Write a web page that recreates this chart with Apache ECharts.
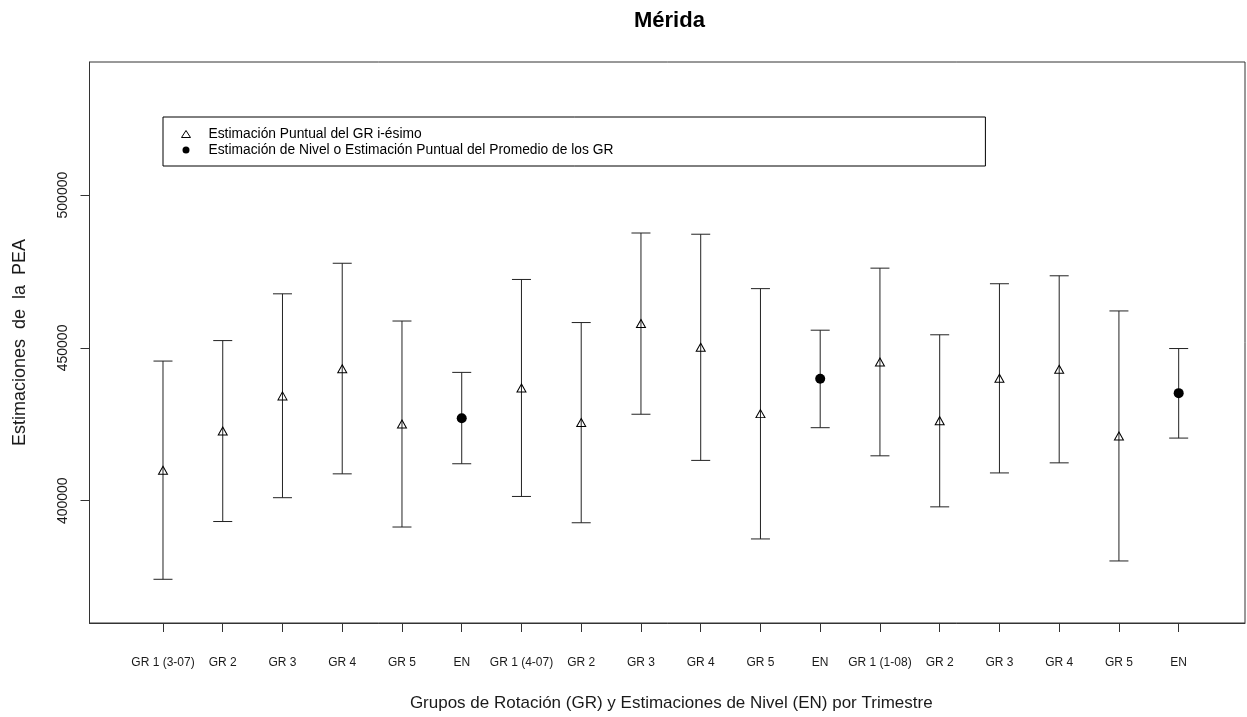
<!DOCTYPE html>
<html>
<head>
<meta charset="utf-8">
<title>Mérida</title>
<script src="https://cdn.jsdelivr.net/npm/echarts@6/dist/echarts.min.js"></script>
<style>
  html, body { margin: 0; padding: 0; background: #fff; }
  #chart { width: 1247px; height: 717px; }
</style>
</head>
<body>
<div id="chart"></div>
<script>
// Rotation groups (GR) and level estimates (EN) for three quarters
const categories = ['GR 1 (3-07)', 'GR 2', 'GR 3', 'GR 4', 'GR 5', 'EN',
                    'GR 1 (4-07)', 'GR 2', 'GR 3', 'GR 4', 'GR 5', 'EN',
                    'GR 1 (1-08)', 'GR 2', 'GR 3', 'GR 4', 'GR 5', 'EN'];
// Point estimates of the PEA
const estimates = [410000, 422800, 434300, 443200, 425100, 427000,
                   436900, 425600, 458000, 450200, 428500, 439900,
                   445400, 426200, 440100, 443000, 421200, 435200];
// Confidence interval bounds
const lowerBounds = [374300, 393200, 401000, 408800, 391400, 412100,
                     401400, 392800, 428300, 413200, 387500, 423900,
                     414700, 398000, 409100, 412400, 380300, 420500];
const upperBounds = [445700, 452400, 467700, 477700, 458800, 442000,
                     472400, 458300, 487600, 487200, 469400, 455800,
                     476100, 454300, 471000, 473600, 462100, 449800];
const yTicks = [400000, 450000, 500000];

const nameGR = 'Estimación Puntual del GR i-ésimo';
const nameEN = 'Estimación de Nivel o Estimación Puntual del Promedio de los GR';

const positions = categories.map((_, i) => i + 1);
const barData = positions.map((x, i) => [x, lowerBounds[i], upperBounds[i]]);
const grPoints = [], enPoints = [];
positions.forEach((x, i) => {
  (categories[i] === 'EN' ? enPoints : grPoints).push([x, estimates[i]]);
});

const FONT = 'Liberation Sans, Arial, sans-serif';
const INK = '#1a1a1a';
const FRAME = '#333';

const chart = echarts.init(document.getElementById('chart'), null, { renderer: 'canvas' });

chart.setOption({
  animation: false,
  backgroundColor: '#fff',
  title: {
    text: 'Mérida',
    left: 634, top: 10, padding: 0,
    textStyle: { fontFamily: FONT, fontSize: 22, fontWeight: 'bold', color: '#000' }
  },
  legend: {
    orient: 'vertical',
    left: 163, top: 117,
    padding: [9, 372, 8, 18],
    itemWidth: 9, itemHeight: 7, itemGap: 0,
    borderColor: '#000', borderWidth: 1,
    selectedMode: false,
    textStyle: { fontFamily: FONT, fontSize: 13.8, color: '#000', lineHeight: 16, padding: [0, 0, 0, 13] },
    data: [
      { name: nameGR, icon: 'triangle', itemStyle: { color: '#fff', borderColor: '#000', borderWidth: 1 } },
      { name: nameEN, icon: 'circle', itemStyle: { color: '#000', borderWidth: 0 } }
    ]
  },
  grid: {
    left: 89.5, right: 2, top: 62, bottom: 91.5,
    show: true, borderColor: FRAME, borderWidth: 1,
    containLabel: false
  },
  xAxis: {
    type: 'value',
    min: -0.23, max: 19.11,
    name: 'Grupos de Rotación (GR) y Estimaciones de Nivel (EN) por Trimestre',
    nameLocation: 'middle',
    nameGap: 72,
    nameTextStyle: { fontFamily: FONT, fontSize: 17, color: INK, padding: [0, 0, 0, 8] },
    axisLine: { show: true, onZero: false, lineStyle: { color: FRAME, width: 1 } },
    splitLine: { show: false },
    axisTick: { show: true, inside: false, length: 9, customValues: positions, lineStyle: { color: FRAME } },
    axisLabel: {
      customValues: positions,
      margin: 34,
      fontFamily: FONT,
      fontSize: 12, color: INK,
      formatter: v => categories[Math.round(v) - 1] || ''
    }
  },
  yAxis: {
    type: 'value',
    min: 360000, max: 543550,
    name: 'Estimaciones  de  la  PEA',
    nameLocation: 'middle',
    nameRotate: 90,
    nameGap: 60,
    nameTextStyle: { fontFamily: FONT, fontSize: 18, color: INK },
    axisLine: { show: true, onZero: false, lineStyle: { color: FRAME, width: 1 } },
    splitLine: { show: false },
    axisTick: { show: true, inside: false, length: 9, customValues: yTicks, lineStyle: { color: FRAME } },
    axisLabel: {
      customValues: yTicks,
      rotate: 90,
      margin: 19,
      fontFamily: FONT, fontSize: 14, color: INK,
      formatter: v => String(Math.round(v))
    }
  },
  series: [
    {
      type: 'custom',
      name: 'intervalos',
      silent: true,
      data: barData,
      encode: { x: 0, y: [1, 2] },
      renderItem: function (params, api) {
        const x = api.value(0);
        const lo = api.coord([x, api.value(1)]);
        const hi = api.coord([x, api.value(2)]);
        const half = 9.5;
        const style = { stroke: '#222', lineWidth: 1 };
        return {
          type: 'group',
          children: [
            { type: 'line', shape: { x1: lo[0], y1: lo[1], x2: hi[0], y2: hi[1] }, style: style },
            { type: 'line', shape: { x1: lo[0] - half, y1: lo[1], x2: lo[0] + half, y2: lo[1] }, style: style },
            { type: 'line', shape: { x1: hi[0] - half, y1: hi[1], x2: hi[0] + half, y2: hi[1] }, style: style }
          ]
        };
      },
      z: 2
    },
    {
      type: 'scatter',
      name: nameGR,
      silent: true,
      symbol: 'triangle',
      symbolSize: [9, 8],
      itemStyle: { color: 'none', borderColor: '#000', borderWidth: 1, opacity: 1 },
      data: grPoints,
      z: 3
    },
    {
      type: 'scatter',
      name: nameEN,
      silent: true,
      symbol: 'circle',
      symbolSize: 10,
      itemStyle: { color: '#000', opacity: 1 },
      data: enPoints,
      z: 3
    }
  ]
});
</script>
</body>
</html>
